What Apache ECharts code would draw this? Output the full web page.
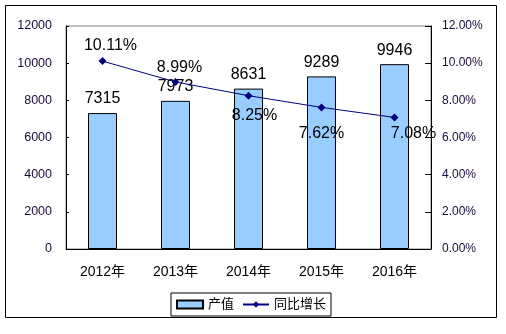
<!DOCTYPE html>
<html><head><meta charset="utf-8">
<script src="https://cdn.jsdelivr.net/npm/echarts@6/dist/echarts.min.js"></script>
<style>html,body{margin:0;padding:0;background:#fff}#c{width:506px;height:334px}</style>
</head><body><div id="c"></div>
<script>
const categories = ['2012年','2013年','2014年','2015年','2016年'];
const outputValues = [7315, 7973, 8631, 9289, 9946];
const growthRates = [10.11, 8.99, 8.25, 7.62, 7.08];
const growthLabelPos = ['top','top','bottom','bottom','bottom'];
const growthLabelOff = [[8,0],[4,2],[6,4],[0,10],[19,0]];
const FONT = 'Arial, "Liberation Sans", "Noto Sans CJK SC", sans-serif';
const chart = echarts.init(document.getElementById('c'));
chart.setOption({
  animation:false,
  textStyle:{fontFamily:FONT},
  graphic:[{type:'rect',shape:{x:5.5,y:5.5,width:491,height:312},style:{fill:'none',stroke:'#000',lineWidth:1},z:-1}],
  grid:{left:66,right:75,top:26,bottom:85,show:true,borderColor:'#808080',borderWidth:1},
  legend:{left:171,top:293,padding:[5,5,5,5],itemGap:8,borderColor:'#000',borderWidth:1,
    itemWidth:26,itemHeight:8,textStyle:{fontSize:13,color:'#000',fontFamily:FONT},
    data:[{name:'产值',icon:'rect'},{name:'同比增长'}]},
  xAxis:{type:'category',data:categories,
    axisLine:{lineStyle:{color:'#000'}},
    axisTick:{inside:true,length:4,lineStyle:{color:'#000'}},
    axisLabel:{fontSize:14,color:'#000',margin:16,fontFamily:FONT}},
  yAxis:[
    {type:'value',min:0,max:12000,interval:2000,
     axisLine:{show:true,lineStyle:{color:'#000'}},
     axisTick:{show:true,inside:true,length:3,lineStyle:{color:'#000'}},
     splitLine:{show:false},
     axisLabel:{fontSize:12.5,color:'#1a0a3a',margin:14,fontFamily:FONT,formatter:v=>String(v)}},
    {type:'value',min:0,max:12,interval:2,position:'right',
     axisLine:{show:true,lineStyle:{color:'#000'}},
     axisTick:{show:true,inside:true,length:6,lineStyle:{color:'#000'}},
     splitLine:{show:false},
     axisLabel:{fontSize:12,color:'#1a0a3a',margin:11,fontFamily:FONT,formatter:v=>v.toFixed(2)+'%'}}
  ],
  series:[
    {name:'产值',type:'bar',data:outputValues,barWidth:29,
     itemStyle:{color:'#99CCFF',borderColor:'#000',borderWidth:1},
     label:{show:true,position:'top',distance:6,fontSize:16,color:'#000',fontFamily:FONT}},
    {name:'同比增长',type:'line',yAxisIndex:1,
     data:growthRates.map((v,i)=>({value:v,label:{position:growthLabelPos[i],offset:growthLabelOff[i]}})),
     symbol:'diamond',symbolSize:8,
     lineStyle:{color:'#000080',width:1},itemStyle:{color:'#000080'},
     label:{show:true,fontSize:16,color:'#000',distance:4,fontFamily:FONT,formatter:p=>p.value.toFixed(2)+'%'}}
  ]
});
</script></body></html>
